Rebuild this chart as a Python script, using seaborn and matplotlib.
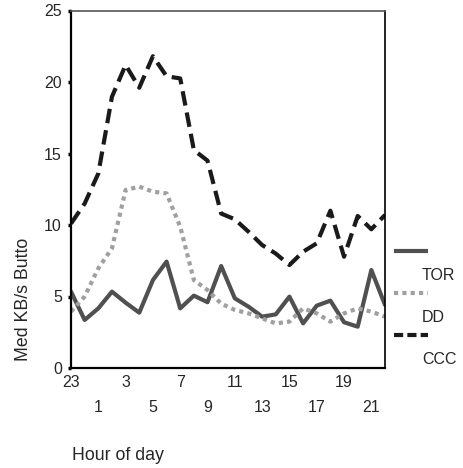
import matplotlib
matplotlib.use("Agg")
import matplotlib.pyplot as plt
import seaborn as sns
import numpy as np
import pandas as pd
from matplotlib.lines import Line2D

hours = [23] + list(range(0, 23))
tor = [5.34, 3.36, 4.17, 5.34, 4.57, 3.87, 6.15, 7.44, 4.17, 5.06, 4.6, 7.13,
       4.87, 4.29, 3.59, 3.75, 4.99, 3.12, 4.36, 4.71, 3.2, 2.89, 6.85, 4.41]
dd = [3.94, 5.0, 6.97, 8.37, 12.45, 12.68, 12.33, 12.21, 9.88, 6.15, 5.45, 4.5,
      4.06, 3.82, 3.47, 3.12, 3.24, 4.17, 3.82, 3.24, 3.82, 4.17, 3.94, 3.59]
ccc = [10.1, 11.5, 13.6, 18.97, 21.19, 19.6, 21.8, 20.4, 20.25, 15.24, 14.5, 10.8,
       10.4, 9.53, 8.6, 8.0, 7.2, 8.13, 8.72, 11.0, 7.78, 10.63, 9.7, 10.7]
series_names = ["TOR", "DD", "CCC"]
colors = ["#505050", "#a0a0a0", "#1a1a1a"]

pos = np.arange(len(hours))
df = pd.DataFrame({"pos": np.tile(pos, 3),
                   "value": tor + dd + ccc,
                   "series": np.repeat(series_names, len(hours))})

sns.set_style("white")
plt.rcParams["font.family"] = ["Liberation Sans", "DejaVu Sans"]

fig = plt.figure(figsize=(4.63, 4.68), dpi=100)
ax = fig.add_axes([71 / 463, 1 - 368 / 468, 314 / 463, 357.5 / 468])

sns.lineplot(data=df, x="pos", y="value", hue="series", palette=colors,
             hue_order=series_names, linewidth=3, ax=ax, legend=False)
lines = ax.get_lines()
lines[0].set_linestyle("-")
lines[1].set_dashes([1.0, 1.0])
lines[1].set_dash_capstyle("butt")
lines[2].set_dashes([3.5, 1.7])
lines[2].set_dash_capstyle("butt")

ax.set_xlim(0, 23)
ax.set_ylim(0, 25)
ax.set_yticks([0, 5, 10, 15, 20, 25])
ax.set_yticklabels(["0", "5", "10", "15", "20", "25"], fontsize=11.5)

major = list(range(0, 24, 4))
minor = list(range(2, 24, 4))
ax.set_xticks(major)
ax.set_xticklabels([str(hours[i]) for i in major], fontsize=11.5)
ax.set_xticks(minor, minor=True)
ax.set_xticklabels([str(hours[i]) for i in minor], minor=True, fontsize=11.5)
ax.tick_params(axis="x", which="major", direction="out", length=2.5, width=2.5,
               pad=2.5, color="black")
ax.tick_params(axis="x", which="minor", direction="out", length=2.5, width=2.5,
               pad=20.5, color="black", labelsize=11.5)
ax.tick_params(axis="y", direction="out", length=2.5, width=2.5, pad=4,
               color="black", left=True)
ax.set_xlabel("")
ax.set_ylabel("")

for s in ["left", "bottom"]:
    ax.spines[s].set_color("black")
    ax.spines[s].set_linewidth(1.6)
ax.spines["right"].set_color("black")
ax.spines["right"].set_linewidth(1.2)
ax.spines["top"].set_color("#555555")
ax.spines["top"].set_linewidth(1.2)

fig.text(24 / 463, 1 - 299 / 468, "Med KB/s Butto", rotation=90,
         ha="center", va="center", fontsize=12.8)
fig.text(72 / 463, 1 - 455 / 468, "Hour of day", ha="left", va="center",
         fontsize=12.8)

# legend in the original's layout: handle above, label below
handle_y = [250.7, 292.7, 335]
label_y = [275, 317.7, 360]
dash_specs = [None, [1.0, 1.0], [2.2, 1.0]]
for name, c, hy, ly, d in zip(series_names, colors, handle_y, label_y, dash_specs):
    ln = Line2D([394 / 463, 428 / 463], [1 - hy / 468, 1 - hy / 468],
                transform=fig.transFigure, color=c, linewidth=3,
                solid_capstyle="butt", dash_capstyle="butt")
    if d is not None:
        ln.set_dashes(d)
    fig.add_artist(ln)
    fig.text(422 / 463, 1 - ly / 468, name, ha="left", va="center", fontsize=11.5)

fig.savefig("out.png", dpi=100)
